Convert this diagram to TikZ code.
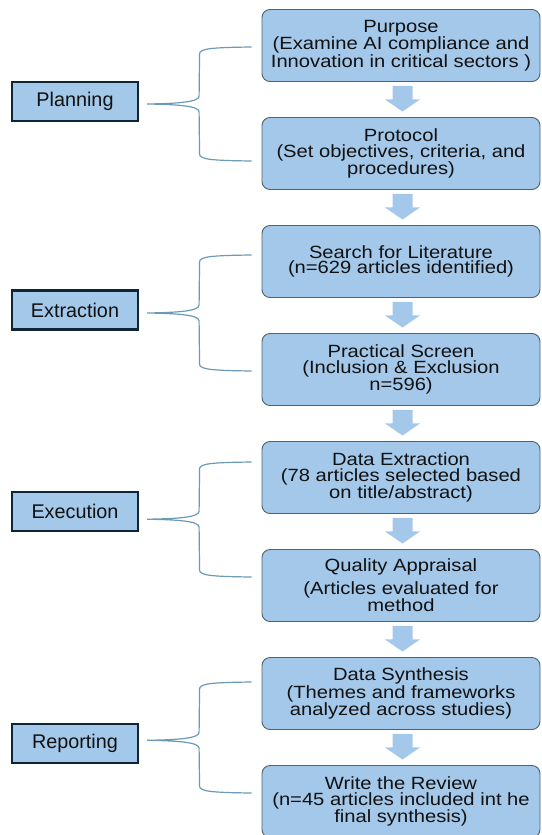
\documentclass[tikz,border=0pt]{standalone}
\usepackage{fontspec}
\setmainfont{Liberation Sans}
\newfontfamily\boxfont{Liberation Sans}[FakeStretch=1.14]
\usetikzlibrary{calc}
\definecolor{boxfill}{HTML}{A4C8EA}
\definecolor{boxline}{HTML}{4D6274}
\definecolor{phaseline}{HTML}{0E2536}
\definecolor{braceline}{HTML}{6C9AB4}
\definecolor{txt}{HTML}{111111}
\tikzset{
  stepbox/.style={draw=boxline, line width=0.9pt, fill=boxfill, rounded corners=8pt,
    minimum width=278pt, minimum height=72pt, inner sep=0pt, align=center,
    text=txt, font=\boxfont\fontsize{17.7}{15.7}\selectfont},
  phasebox/.style={draw=phaseline, line width=2.2pt, fill=boxfill,
    minimum width=126pt, minimum height=39pt, inner sep=0pt,
    text=txt, font=\fontsize{19.8}{22}\selectfont},
  flowarrow/.style={fill=boxfill, draw=none},
  bracestyle/.style={draw=braceline, line width=1.2pt}
}
\newcommand\flowarr[2]{%
  \fill[flowarrow] ($(#1.south)+(-8.5,4)$) -- ($(#1.south)+(11.5,4)$) -- ($(#1.south)+(11.5,17.5)$)
   -- ($(#1.south)+(19,17.5)$) -- ($(#2.north)+(1.5,-5.5)$) -- ($(#1.south)+(-16,17.5)$)
   -- ($(#1.south)+(-8.5,17.5)$) -- cycle;}
\newcommand\phasebrace[3]{%
  \draw[bracestyle] (#1) .. controls ($(#1)+(-40,0.5)$) and ($(#1)+(-52,1.5)$) .. ($(#1)+(-52,7)$)
   -- ($(#2)+(52,-8)$) .. controls ($(#2)+(52,-2)$) and ($(#2)+(32,-0.5)$) .. (#2)
   .. controls ($(#2)+(32,0.5)$) and ($(#2)+(52,2)$) .. ($(#2)+(52,8)$)
   -- ($(#3)+(-52,-7)$) .. controls ($(#3)+(-52,-1.5)$) and ($(#3)+(-40,-0.5)$) .. (#3);}
\begin{document}
\begin{tikzpicture}[x=1pt,y=-1pt]
\useasboundingbox (0,0) rectangle (541,835);
% right column
\node[stepbox] (b1) at (401,45.5) {Purpose\\(Examine AI compliance and\\Innovation in critical sectors )};
\node[stepbox] (b2) at (401,153.5) {Protocol\\(Set objectives, criteria, and\\procedures)};
\node[stepbox] (b3) at (401,261.5) {Search for Literature\\(n=629 articles identified)};
\node[stepbox] (b4) at (401,369.5) {Practical Screen\\(Inclusion \& Exclusion\\n=596)};
\node[stepbox] (b5) at (401,477.5) {Data Extraction\\(78 articles selected based\\on title/abstract)};
\node[stepbox] (b6) at (401,585.5) {Quality Appraisal\\[5pt](Articles evaluated for\\method};
\node[stepbox] (b7) at (401,693.5) {Data Synthesis\\(Themes and frameworks\\analyzed across studies)};
\node[stepbox] (b8) at (401,801.5) {Write the Review\\(n=45 articles included int he\\final synthesis)};
% arrows
\flowarr{b1}{b2}
\flowarr{b2}{b3}
\flowarr{b3}{b4}
\flowarr{b4}{b5}
\flowarr{b5}{b6}
\flowarr{b6}{b7}
\flowarr{b7}{b8}
% phases
\node[phasebox] (p1) at (75,101.5) {Planning};
\node[phasebox] (p2) at (75,310) {Extraction};
\node[phasebox] (p3) at (75,511.7) {Execution};
\node[phasebox] (p4) at (75,743.3) {Reporting};
% brace coordinates
\coordinate (p1a) at ($(b1.west)+(-10,1.5)$);
\coordinate (p1t) at ($(p1.east)+(8,2.5)$);
\coordinate (p1b) at ($(b2.west)+(-10,7.5)$);
\coordinate (p2a) at ($(b3.west)+(-10,-6.5)$);
\coordinate (p2t) at ($(p2.east)+(8,3)$);
\coordinate (p2b) at ($(b4.west)+(-10,1.5)$);
\coordinate (p3a) at ($(b5.west)+(-10,-15.5)$);
\coordinate (p3t) at ($(p3.east)+(8,7.5)$);
\coordinate (p3b) at ($(b6.west)+(-10,-8.5)$);
\coordinate (p4a) at ($(b7.west)+(-10,-11.5)$);
\coordinate (p4t) at ($(p4.east)+(8,-3)$);
\coordinate (p4b) at ($(b8.west)+(-10,-8.5)$);
\phasebrace{p1a}{p1t}{p1b}
\phasebrace{p2a}{p2t}{p2b}
\phasebrace{p3a}{p3t}{p3b}
\phasebrace{p4a}{p4t}{p4b}
\end{tikzpicture}
\end{document}
